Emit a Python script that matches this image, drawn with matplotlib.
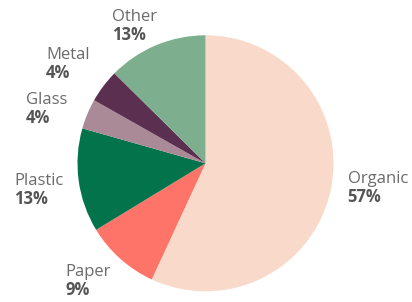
import matplotlib.pyplot as plt

# Datos de la composición de residuos
categories = ["Organic", "Paper", "Plastic", "Glass", "Metal", "Other"]
values = [56.9, 9.4, 13.1, 3.8, 4.2, 12.6]
pct_labels = ["57%", "9%", "13%", "4%", "4%", "13%"]
colors = ["#f9d9ca", "#ff7468", "#02734a", "#a98a96", "#5a2f50", "#7dae8e"]

# posiciones de etiquetas (px desde arriba-izquierda, línea base del nombre)
label_pos = {
    "Organic": (347.7, 183.3),
    "Paper": (65.7, 276),
    "Plastic": (14, 185),
    "Glass": (25.7, 104.3),
    "Metal": (46, 59),
    "Other": (111.7, 20.7),
}

W, H = 412, 302
fig = plt.figure(figsize=(W / 100, H / 100), dpi=100)
ax = fig.add_axes([0, 0, 1, 1])

ax.pie(values, colors=colors, startangle=90, counterclock=False,
       center=(205.5, H - 163.3), radius=128, frame=True,
       wedgeprops=dict(linewidth=0))
ax.set_xlim(0, W)
ax.set_ylim(0, H)
ax.axis("off")

for cat, pct in zip(categories, pct_labels):
    x, y = label_pos[cat]
    ax.text(x, H - y, cat, fontsize=12, family="Open Sans", color="#6b6b6b",
            ha="left", va="baseline")
    ax.text(x, H - y - 19, pct, fontsize=12, family="Open Sans",
            fontweight="bold", color="#555555", ha="left", va="baseline")

fig.savefig("out.png", dpi=100)
